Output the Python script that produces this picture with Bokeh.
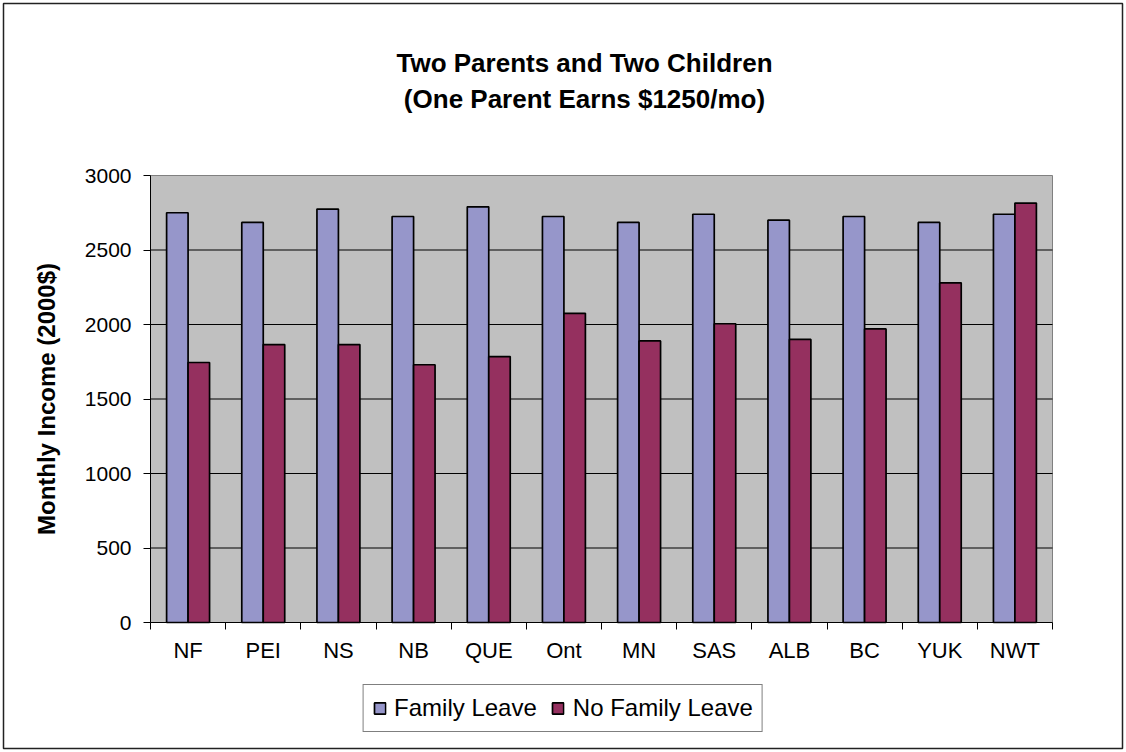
from bokeh.plotting import figure
from bokeh.models import (ColumnDataSource, FixedTicker, Legend, LegendItem,
                          Label, Range1d)
from bokeh.transform import dodge
from bokeh.embed import file_html
from bokeh.resources import INLINE

# Monthly income by province/territory, two-parent two-child family
provinces = ["NF", "PEI", "NS", "NB", "QUE", "Ont", "MN", "SAS", "ALB", "BC", "YUK", "NWT"]
family_leave = [2750, 2685, 2775, 2725, 2790, 2725, 2685, 2740, 2700, 2725, 2685, 2740]
no_family_leave = [1745, 1865, 1865, 1730, 1785, 2075, 1890, 2005, 1900, 1970, 2280, 2815]
y_ticks = [0, 500, 1000, 1500, 2000, 2500, 3000]

title_lines = ["Two Parents and Two Children", "(One Parent Earns $1250/mo)"]
y_title = "Monthly Income (2000$)"
series_names = ["Family Leave", "No Family Leave"]

FONT = "Liberation Sans"
BLUE = "#9696CA"
WINE = "#95305F"
PLOT_BG = "#C0C0C0"

# canvas and chart-area geometry (pixels)
W, H = 1126, 752
CA_L, CA_T, CA_R, CA_B = 3, 3, 1122, 748          # chart-area border
PA_L, PA_T, PA_R, PA_B = 150, 175, 1052, 622      # plot area inside it

n = len(provinces)
ymax = y_ticks[-1]
px_per_cat = (PA_R - PA_L) / n
units_per_px = ymax / (PA_B - PA_T)

x_range = Range1d(-(PA_L - CA_L) / px_per_cat, n + (CA_R - PA_R) / px_per_cat)
y_range = Range1d(-(CA_B - PA_B) * units_per_px, ymax + (PA_T - CA_T) * units_per_px)

p = figure(width=W, height=H, output_backend="svg", toolbar_location=None,
           x_range=x_range, y_range=y_range,
           min_border_left=CA_L, min_border_right=W - CA_R,
           min_border_top=CA_T, min_border_bottom=H - CA_B)

p.background_fill_color = "white"
p.border_fill_color = "white"
p.outline_line_color = "#222222"
p.outline_line_width = 1.5
p.xgrid.visible = False
p.ygrid.visible = False

centers = [i + 0.5 for i in range(n)]
bounds = list(range(n + 1))

# grey plot area and its gridlines
p.quad(left=[0], right=[n], bottom=[y_ticks[0]], top=[ymax],
       fill_color=PLOT_BG, line_color="#808080", line_width=1)
grid_vals = y_ticks[1:-1]
p.segment(x0=[0] * len(grid_vals), x1=[n] * len(grid_vals), y0=grid_vals, y1=grid_vals,
          line_color="black", line_width=1)

src = ColumnDataSource(dict(x=centers, fl=family_leave, nfl=no_family_leave))
bw = 1 / 3.5
r1 = p.vbar(x=dodge("x", -bw / 2), top="fl", width=bw, source=src,
            fill_color=BLUE, line_color="black", line_width=1.7)
r2 = p.vbar(x=dodge("x", bw / 2), top="nfl", width=bw, source=src,
            fill_color=WINE, line_color="black", line_width=1.7)

# category axis pinned to y=0: labels at centres, tick marks on boundaries
xa = p.xaxis[0]
xa.fixed_location = 0
xa.bounds = (0, n)
xa.ticker = FixedTicker(ticks=centers, minor_ticks=bounds)
xa.major_label_overrides = {c: name for c, name in zip(centers, provinces)}
xa.major_tick_out = 0
xa.major_tick_in = 0
xa.minor_tick_out = 7
xa.minor_tick_in = 0
xa.minor_tick_line_color = "black"
xa.axis_line_color = "black"
xa.major_label_text_font = FONT
xa.major_label_text_font_size = "22px"
xa.major_label_text_color = "black"
xa.major_label_standoff = 8

# value axis pinned to x=0
ya = p.yaxis[0]
ya.fixed_location = 0
ya.bounds = (0, ymax)
ya.ticker = FixedTicker(ticks=y_ticks, minor_ticks=[])
ya.major_tick_out = 7
ya.major_tick_in = 0
ya.major_tick_line_color = "black"
ya.axis_line_color = "black"
ya.major_label_text_font = FONT
ya.major_label_text_font_size = "21px"
ya.major_label_text_color = "black"
ya.major_label_standoff = 12
ya.axis_label = y_title
ya.axis_label_text_font = FONT
ya.axis_label_text_font_size = "24px"
ya.axis_label_text_font_style = "bold"
ya.axis_label_text_color = "black"
ya.axis_label_standoff = 22

legend = Legend(items=[LegendItem(label=series_names[0], renderers=[r1]),
                       LegendItem(label=series_names[1], renderers=[r2])],
                orientation="horizontal", location="bottom_center",
                border_line_color="black", border_line_width=1,
                background_fill_color="white", background_fill_alpha=1,
                label_text_font=FONT, label_text_font_size="24px",
                label_text_color="black",
                glyph_width=14, glyph_height=14, label_standoff=8,
                spacing=14, padding=9, margin=16)
p.add_layout(legend)

# chart title, two centred lines
cx = 584 - CA_L
for text, base in zip(title_lines, [62, 98]):
    p.add_layout(Label(x=cx, y=CA_B - base, x_units="screen", y_units="screen",
                       text=text, text_align="center", text_baseline="alphabetic",
                       text_font=FONT, text_font_size="26px", text_font_style="bold",
                       text_color="black"))

open("out.html", "w").write(file_html(p, INLINE))
